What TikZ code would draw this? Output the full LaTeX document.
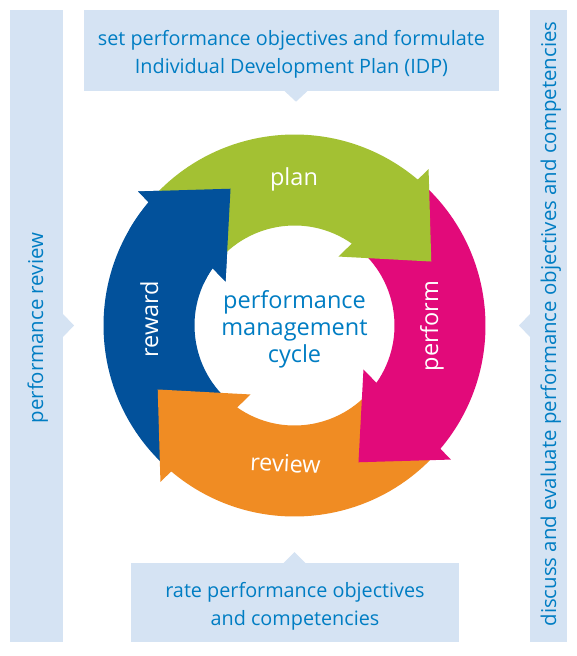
\documentclass[tikz,border=0pt]{standalone}
\usepackage{fontspec}
\setmainfont{Open Sans}
\definecolor{boxfill}{RGB}{213,227,243}
\definecolor{txtblue}{RGB}{0,125,195}
\definecolor{cgreen}{RGB}{163,193,51}
\definecolor{cpink}{RGB}{226,10,122}
\definecolor{corange}{RGB}{240,140,35}
\definecolor{cblue}{RGB}{2,81,155}
\newcommand{\ringarrow}[2]{%
  \pgfmathsetmacro\aON{-49.8+#1}%
  \pgfmathsetmacro\aONp{-139.8+#1}%
  \pgfmathsetmacro\aOB{-49.4+#1}%
  \pgfmathsetmacro\aA{-25.07+#1}%
  \pgfmathsetmacro\aIB{-57.47+#1}%
  \pgfmathsetmacro\aIN{-55.03+#1}%
  \pgfmathsetmacro\aINp{-145.03+#1}%
  \fill[#2] (\aONp:191) arc[start angle=\aONp, end angle=\aON, radius=191]
    -- (\aOB:206) -- (\aA:151) -- (\aIB:81.8) -- (\aIN:100)
    arc[start angle=\aIN, end angle=\aINp, radius=100] -- cycle;%
}
\newcommand{\ringhead}[2]{%
  \pgfmathsetmacro\aON{-49.8+#1}%
  \pgfmathsetmacro\aONp{-59.8+#1}%
  \pgfmathsetmacro\aOB{-49.4+#1}%
  \pgfmathsetmacro\aA{-25.07+#1}%
  \pgfmathsetmacro\aIB{-57.47+#1}%
  \pgfmathsetmacro\aIN{-55.03+#1}%
  \pgfmathsetmacro\aINp{-65.03+#1}%
  \fill[#2] (\aONp:191) arc[start angle=\aONp, end angle=\aON, radius=191]
    -- (\aOB:206) -- (\aA:151) -- (\aIB:81.8) -- (\aIN:100)
    arc[start angle=\aIN, end angle=\aINp, radius=100] -- cycle;%
}
\begin{document}
\begin{tikzpicture}[x=1pt,y=-1pt,
  boxtext/.style={text=txtblue, font=\fontsize{19.8}{28}\selectfont, inner sep=0pt, anchor=base},
  sidetext/.style={text=txtblue, font=\fontsize{20.4}{28}\selectfont, inner sep=0pt, anchor=base, rotate=90},
  centertext/.style={text=txtblue, font=\fontsize{23.5}{27}\selectfont, inner sep=0pt, anchor=base},
  lbl/.style={text=white, font=\fontsize{23.5}{27}\selectfont, inner sep=0pt, anchor=base}]
\useasboundingbox (0,0) rectangle (577,656);
\fill[white] (0,0) rectangle (577,656);
% callout boxes
\fill[boxfill] (84,10) rectangle (499,90.7);
\fill[boxfill] (284,90.5) -- (296,101.7) -- (308,90.5) -- cycle;
\fill[boxfill] (131,563) rectangle (459,642);
\fill[boxfill] (283,563.5) -- (294.5,552) -- (306,563.5) -- cycle;
\fill[boxfill] (10,10) rectangle (63,642);
\fill[boxfill] (62.5,313.5) -- (74,325.5) -- (62.5,337.5) -- cycle;
\fill[boxfill] (530,10) rectangle (567,642);
\fill[boxfill] (530.5,313.5) -- (519,325.5) -- (530.5,337.5) -- cycle;
% cycle ring
\begin{scope}[shift={(294.5,325.5)}]
  \ringarrow{270}{cblue}
  \ringarrow{180}{corange}
  \ringarrow{90}{cpink}
  \ringarrow{0}{cgreen}
  \ringhead{270}{cblue}
\end{scope}
% texts
\node[boxtext] (t1) at (291.5,45) {set performance objectives and formulate};
\node[boxtext] (t2) at (291.5,73) {Individual Development Plan (IDP)};
\node[boxtext] (b1) at (295,597) {rate performance objectives};
\node[boxtext] (b2) at (295,625) {and competencies};
\node[sidetext] (l1) at (43,328) {performance review};
\node[sidetext] (r1) at (556,324) {discuss and evaluate performance objectives and competencies};
\node[centertext] (c1) at (294.5,308) {performance};
\node[centertext] (c2) at (294.5,335) {management};
\node[centertext] (c3) at (294.5,362) {cycle};
\node[lbl] (plan) at (294,185) {plan};
\node[lbl, rotate=90] (perform) at (438,326) {perform};
\node[lbl, rotate=-3] (review) at (285,472) {review};
\node[lbl, rotate=90] (reward) at (158,319) {reward};
\end{tikzpicture}
\end{document}
